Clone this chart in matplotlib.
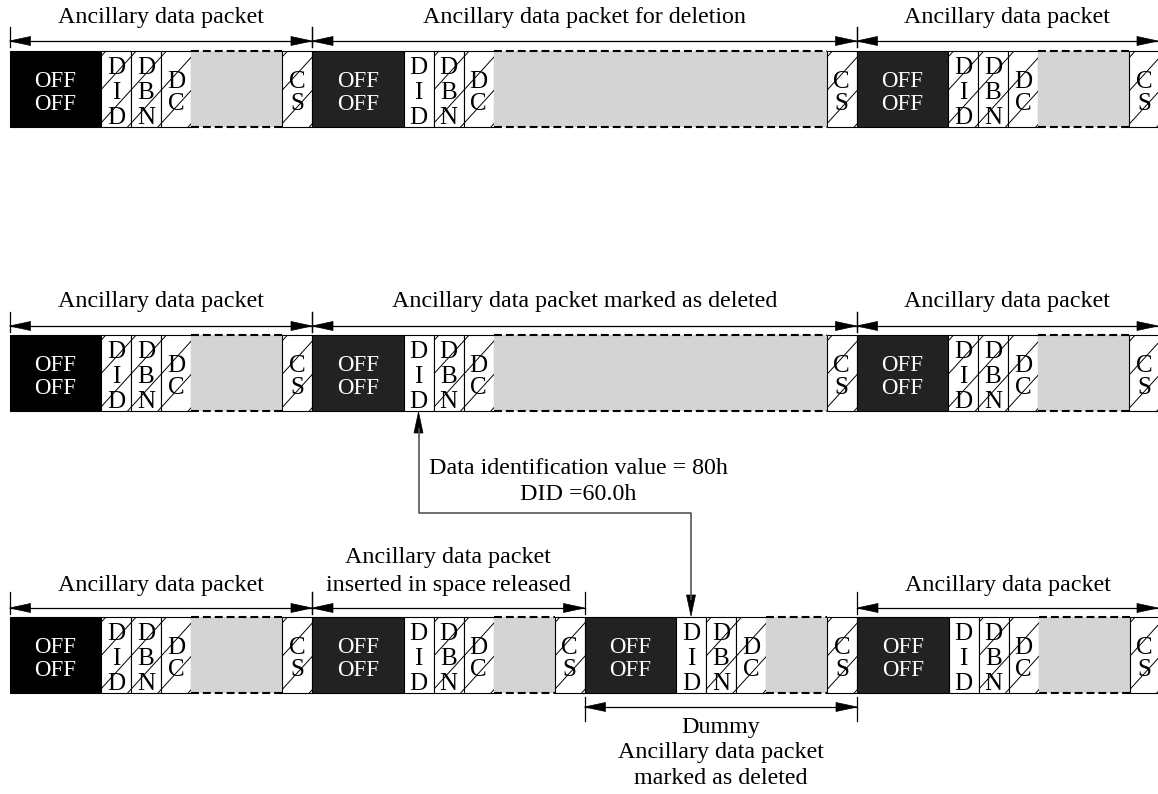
import matplotlib
matplotlib.use("Agg")
import matplotlib.pyplot as plt
from matplotlib.patches import Rectangle, Polygon
import numpy as np

# ---------------- data ----------------
row_tops = [51, 335, 617]              # top edge of each packet row
gray_widths = [[91, 333, 91],          # payload (gray) width of each packet
               [91, 333, 91],
               [91, 61, 61, 91]]
did_hatched = [[True, False, True],
               [True, False, True],
               [True, False, False, False]]
row_dim_y = [41, 326, 608]
row_labels = [
    ["Ancillary data packet", "Ancillary data packet for deletion", "Ancillary data packet"],
    ["Ancillary data packet", "Ancillary data packet marked as deleted", "Ancillary data packet"],
    ["Ancillary data packet", "Ancillary data packet\ninserted in space released", None, "Ancillary data packet"],
]
row_label_y = [18, 302, 585]
cell_names = [["D", "I", "D"], ["D", "B", "N"], ["D", "C"]]
cs_name = ["C", "S"]
off_text = ["OFF", "OFF"]
connector_text = ["Data identification value = 80h", "DID =60.0h"]
dummy_text = ["Dummy", "Ancillary data packet", "marked as deleted"]

# ---------------- style ----------------
W, H = 1158, 794
BOX_H = 76
OFF_W = 91.5
CELL_W = 30
X0 = 9.5
FONT = "Liberation Serif"
FS_LAB = 17.3
FS_CELL = 18
FS_OFF = 16.5
GRAY = "#d4d4d4"

fig = plt.figure(figsize=(W / 100, H / 100), dpi=100)
ax = fig.add_axes([0, 0, 1, 1])
ax.set_xlim(0, W)
ax.set_ylim(H, 0)
ax.axis("off")


def hatch_cell(x0, x1, top, bot, phase):
    clip = Rectangle((x0, top), x1 - x0, bot - top, transform=ax.transData)
    slope = 1.1
    spacing = 33.3
    cmin = top + slope * x0
    cmax = bot + slope * x1
    k0 = int(np.floor((cmin - phase) / spacing)) - 1
    k1 = int(np.ceil((cmax - phase) / spacing)) + 1
    for k in range(k0, k1 + 1):
        c = phase + k * spacing
        xs = np.array([x0 - 5, x1 + 5])
        ys = c - slope * xs
        ln, = ax.plot(xs, ys, color="black", lw=0.7, solid_capstyle="butt")
        ln.set_clip_path(clip)


def letters(xc, top, names, offsets, color="black", fs=FS_CELL, half_cap=8.3):
    for n, off in zip(names, offsets):
        ax.text(xc, top + off + half_cap, n, ha="center", va="baseline", fontsize=fs,
                family=FONT, color=color)


def draw_packet(x, top, gray_w, hatched_did, first):
    bot = top + BOX_H
    phase = 1.0 + (top - 51)
    # OFF block
    ax.add_patch(Rectangle((x, top), OFF_W, BOX_H, facecolor="black" if first else "#222222",
                           edgecolor="black", lw=0.8))
    letters(x + OFF_W / 2, top, off_text, [28.5, 51.5], color="white", fs=FS_OFF, half_cap=7.6)
    cx = x + OFF_W
    # DID, DBN, DC cells
    for i, names in enumerate(cell_names):
        ax.add_patch(Rectangle((cx, top), CELL_W, BOX_H, facecolor="white",
                               edgecolor="black", lw=0.8))
        if i > 0 or hatched_did:
            hatch_cell(cx, cx + CELL_W, top, bot, phase)
        if len(names) == 3:
            letters(cx + CELL_W / 2, top, names, [14.5, 40, 64.5])
        else:
            letters(cx + CELL_W / 2, top, names, [29, 51])
        cx += CELL_W
    # gray payload with dashed top/bottom
    ax.add_patch(Rectangle((cx, top), gray_w, BOX_H, facecolor=GRAY, edgecolor="none"))
    for yy in (top, bot):
        ax.plot([cx, cx + gray_w], [yy, yy], color="black", lw=1.5,
                linestyle=(0, (3.8, 1.9)))
    cx += gray_w
    # CS cell
    ax.add_patch(Rectangle((cx, top), CELL_W, BOX_H, facecolor="white",
                           edgecolor="black", lw=0.8))
    hatch_cell(cx, cx + CELL_W, top, bot, phase)
    letters(cx + CELL_W / 2, top, cs_name, [29, 51])
    return cx + CELL_W


def arrowhead(tipx, tipy, direction, length=21, half=4.5):
    dx, dy = direction
    bx, by = tipx - dx * length, tipy - dy * length
    px, py = -dy * half, dx * half
    ax.add_patch(Polygon([(tipx, tipy), (bx + px, by + py), (bx - px, by - py)],
                         closed=True, facecolor="black", edgecolor="black", lw=0.5))


def dim_line(xa, xb, y, tick_up=14, tick_dn=6, ticks=(True, True)):
    ax.plot([xa, xb], [y, y], color="black", lw=0.9)
    arrowhead(xa, y, (-1, 0))
    arrowhead(xb, y, (1, 0))
    for t, xx in zip(ticks, (xa, xb)):
        if t:
            ax.plot([xx, xx], [y - tick_up, y + tick_dn], color="black", lw=0.9)


# ---------------- rows ----------------
for r, top in enumerate(row_tops):
    x = X0
    bounds = [x]
    for p, gw in enumerate(gray_widths[r]):
        x = draw_packet(x, top, gw, did_hatched[r][p], p == 0)
        bounds.append(x)
    bounds[-1] = W
    for p, lab in enumerate(row_labels[r]):
        if lab is None:
            continue
        xa, xb = bounds[p], bounds[p + 1]
        tu = 16 if r == 2 else 14
        dim_line(xa, xb, row_dim_y[r], tick_up=tu, ticks=(True, p < len(gray_widths[r]) - 1))
        lines = lab.split("\n")
        for j, ln in enumerate(lines):
            yy = row_label_y[r] - 27 * (len(lines) - 1 - j)
            ax.text((xa + xb) / 2, yy, ln, ha="center", va="center", fontsize=FS_LAB,
                    family=FONT, color="black")
    if r == 2:
        # dummy packet dimension below
        xa, xb = bounds[2], bounds[3]
        yd = top + BOX_H + 14
        ax.plot([xa, xb], [yd, yd], color="black", lw=0.9)
        arrowhead(xa, yd, (-1, 0))
        arrowhead(xb, yd, (1, 0))
        for xx in (xa, xb):
            ax.plot([xx, xx], [yd - 10, yd + 14], color="black", lw=0.9)
        for j, t in enumerate(dummy_text):
            ax.text((xa + xb) / 2, 727 + j * 25.5, t, ha="center", va="center",
                    fontsize=FS_LAB, family=FONT, color="black")
        dummy_did_x = xa + OFF_W + CELL_W / 2

# ---------------- connector ----------------
src_x = X0 + 303 - 0.5 + OFF_W + CELL_W / 2
src_y = row_tops[1] + BOX_H
mid_y = 513
dst_x = dummy_did_x
dst_y = row_tops[2]
ax.plot([src_x, src_x, dst_x, dst_x], [src_y + 18, mid_y, mid_y, dst_y - 18],
        color="#555555", lw=1.2)
arrowhead(src_x, src_y + 1, (0, -1), length=21, half=4.5)
arrowhead(dst_x, dst_y - 1, (0, 1), length=21, half=4.5)
ax.text(578, 468, connector_text[0], ha="center", va="center", fontsize=FS_LAB,
        family=FONT, color="black")
ax.text(578, 495, connector_text[1], ha="center", va="center", fontsize=FS_LAB,
        family=FONT, color="black")

fig.savefig("out.png", dpi=100)
